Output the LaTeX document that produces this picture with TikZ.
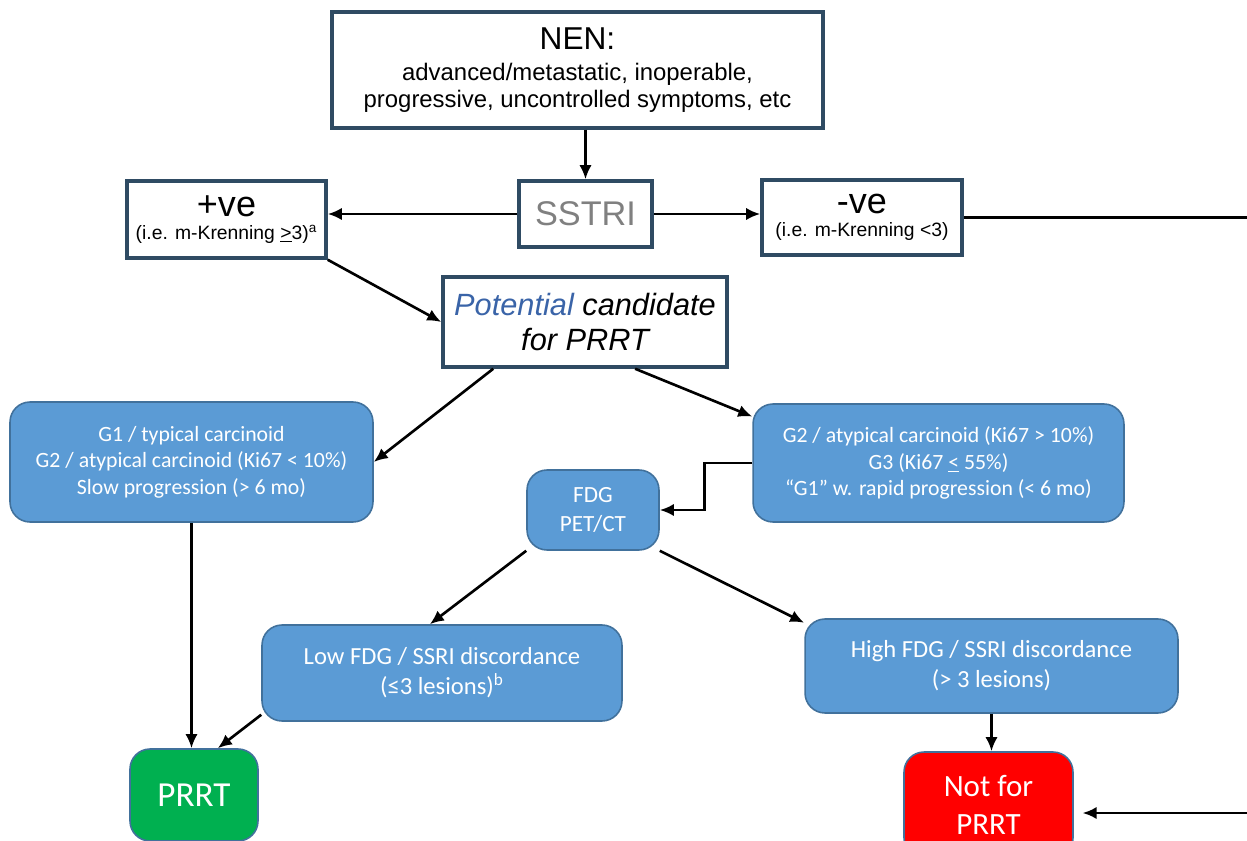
\documentclass[tikz,border=0pt]{standalone}
\usepackage{fontspec}
\setmainfont{Liberation Sans}
\newfontfamily\calfont{Carlito}
\usetikzlibrary{arrows.meta}
\definecolor{boxline}{HTML}{2F4B63}
\definecolor{bluefill}{HTML}{5B9BD5}
\definecolor{blueline}{HTML}{41719C}
\definecolor{greenfill}{HTML}{00B050}
\definecolor{redfill}{HTML}{FF0000}
\definecolor{potblue}{HTML}{3A64A8}
\begin{document}
\begin{tikzpicture}[x=0.02cm,y=-0.02cm,
  whitebox/.style={draw=boxline,line width=2pt,fill=white,align=center,inner sep=0pt},
  bluebox/.style={draw=blueline,line width=0.9pt,fill=bluefill,rounded corners=0.4cm,align=center,inner sep=0pt,text=white,font=\calfont\fontsize{12.4}{15}\selectfont},
  arrow/.style={draw,line width=1.5pt,-{Latex[length=8pt,width=7pt]}}]
\useasboundingbox (0,0) rectangle (1247,841);
\node[whitebox,minimum width=9.82cm,minimum height=2.32cm,font=\fontsize{13.6}{15.6}\selectfont] (nen) at (577.5,70) {{\fontsize{18}{20}\selectfont NEN:}\\[2pt]
  advanced/metastatic, inoperable,\\ progressive, uncontrolled symptoms, etc};
\node[whitebox,minimum width=2.66cm,minimum height=1.32cm,text=gray,font=\fontsize{19.5}{22}\selectfont] (sstri) at (585.5,214) {SSTRI};
\node[whitebox,minimum width=3.98cm,minimum height=1.54cm,font=\fontsize{11}{13}\selectfont] (pos) at (226.5,219.5) {{\fontsize{20.5}{22}\selectfont +ve}\\
  (i.e. m-Krenning \underline{>}3)\textsuperscript{a}};
\node[whitebox,minimum width=4cm,minimum height=1.5cm,font=\fontsize{11}{13}\selectfont] (neg) at (862,217.5) {{\fontsize{20.5}{22}\selectfont -ve}\\
  (i.e. m-Krenning <3)};
\node[whitebox,minimum width=5.68cm,minimum height=1.8cm,font=\itshape\fontsize{17.5}{20}\selectfont] (cand) at (585,322) {\textcolor{potblue}{Potential} candidate\\ for PRRT};
\node[bluebox,minimum width=7.26cm,minimum height=2.4cm] (g1) at (191.5,462) {G1 / typical carcinoid\\ G2 / atypical carcinoid (Ki67 < 10\%)\\ Slow progression (> 6 mo)};
\node[bluebox,minimum width=7.42cm,minimum height=2.36cm] (g2) at (938.5,463) {G2 / atypical carcinoid (Ki67 > 10\%)\\ G3 (Ki67 \underline{<} 55\%)\\ “G1” w. rapid progression (< 6 mo)};
\node[bluebox,minimum width=2.64cm,minimum height=1.6cm,font=\calfont\fontsize{13.2}{17}\selectfont] (fdg) at (593,510) {FDG\\ PET/CT};
\node[bluebox,minimum width=7.2cm,minimum height=1.92cm,font=\calfont\fontsize{14}{17}\selectfont] (low) at (442,673) {Low FDG / SSRI discordance\\ (≤3 lesions)\textsuperscript{b}};
\node[bluebox,minimum width=7.46cm,minimum height=1.88cm,font=\calfont\fontsize{14}{17}\selectfont] (high) at (991.5,666) {High FDG / SSRI discordance\\ (> 3 lesions)};
\node[bluebox,fill=greenfill,minimum width=2.56cm,minimum height=1.84cm,font=\calfont\fontsize{20}{22}\selectfont] (prrt) at (194,795) {PRRT};
\node[bluebox,fill=redfill,minimum width=3.38cm,minimum height=2.12cm,font=\calfont\fontsize{17.6}{21.5}\selectfont] (notprrt) at (988.5,805) {Not for\\ PRRT};
\coordinate (rc) at (1250,813);
\path[arrow] (nen.south -| sstri.north) -- (sstri.north);
\path[arrow] (sstri.west) -- (sstri.west -| pos.east);
\path[arrow] (sstri.east) -- (sstri.east -| neg.west);
\path[arrow,shorten >=5pt] (neg.east) -| (rc) -- (rc -| notprrt.east);
\path[arrow] (pos.south east) -- (cand.west);
\path[arrow] (cand.207) -- (g1.east);
\path[arrow] (cand.317) -- (g2.166);
\path[arrow] (g2.west) -- ++(-48,0) |- (fdg.east);
\path[arrow] (fdg.south west) -- (low.104);
\path[arrow] (fdg.south east) -- (high.167);
\path[arrow] (g1.south) -- (g1.south |- prrt.north);
\path[arrow] (low.193) -- (prrt.63);
\path[arrow] (high.south) -- (high.south |- notprrt.north);
\end{tikzpicture}
\end{document}
